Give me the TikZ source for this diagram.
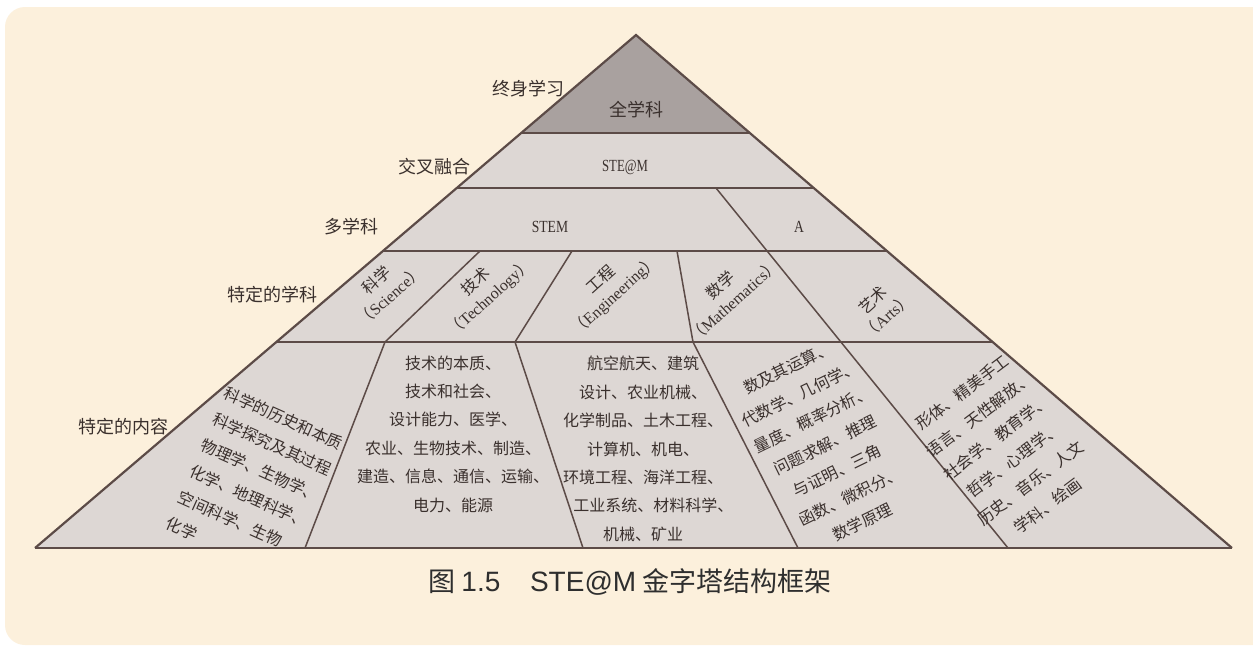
\documentclass[tikz,border=0pt]{standalone}
\usepackage{fontspec}
\setmainfont{Liberation Serif}
\newfontfamily\cjk{Noto Sans CJK SC}
\newfontfamily\capsans{Liberation Sans}
\usetikzlibrary{calc}
\definecolor{panel}{HTML}{FCF0DC}
\definecolor{tierfill}{HTML}{DDD7D4}
\definecolor{topfill}{HTML}{A9A19F}
\definecolor{edge}{HTML}{5C4B47}
\definecolor{ink}{HTML}{3A302D}
\definecolor{capink}{HTML}{2E2E2E}
\begin{document}
\begin{tikzpicture}[x=0.5pt,y=-0.5pt,
  lbl/.style={font=\cjk\fontsize{9}{11}\selectfont, text=ink, inner sep=0pt, anchor=east},
  tiertxt/.style={font=\cjk\fontsize{9}{11}\selectfont, text=ink, inner sep=0pt},
  latcap/.style={font=\fontsize{8.5}{10}\selectfont, text=ink, inner sep=0pt},
  subj/.style={font=\fontsize{8}{10.5}\selectfont, text=ink, inner sep=0pt, align=center, rotate=42},
  body/.style={font=\cjk\fontsize{8}{14.2}\selectfont, text=ink, inner sep=0pt},
  tierline/.style={draw=edge, line width=1.1pt},
  divline/.style={draw=edge, line width=0.75pt}]
\useasboundingbox (0,0) rectangle (1253,645);
\clip (0,0) rectangle (1253,645);
\fill[white] (0,0) rectangle (1253,645);
\fill[panel, rounded corners=10pt] (5,7) rectangle (1275,645);
% pyramid geometry
\coordinate (apex) at (636,35);
\coordinate (bl) at (35,548);
\coordinate (br) at (1232,548);
\foreach \n/\t in {a/0.19103, b/0.29825, c/0.42105, d/0.59844} {
  \coordinate (L\n) at ($(apex)!\t!(bl)$);
  \coordinate (R\n) at ($(apex)!\t!(br)$);
}
\fill[tierfill] (apex) -- (bl) -- (br) -- cycle;
\fill[topfill] (apex) -- (La) -- (Ra) -- cycle;
% dividers
\coordinate (sa1) at (716,188);
\coordinate (sa2) at (1008,548);
\coordinate (t1a) at (480,251); \coordinate (t1b) at (385,342); \coordinate (t1c) at (305,548);
\coordinate (t2a) at (572,251); \coordinate (t2b) at (515,342); \coordinate (t2c) at (583,548);
\coordinate (t3a) at (677,251); \coordinate (t3b) at (693,342); \coordinate (t3c) at (798,548);
\draw[divline] (sa1) -- (sa2);
\draw[divline] (t1a) -- (t1b) -- (t1c);
\draw[divline] (t2a) -- (t2b) -- (t2c);
\draw[divline] (t3a) -- (t3b) -- (t3c);
% tier lines
\draw[tierline] (La) -- (Ra);
\draw[tierline] (Lb) -- (Rb);
\draw[tierline] (Lc) -- (Rc);
\draw[tierline] (Ld) -- (Rd);
\draw[tierline] (bl) -- (br);
\draw[tierline, line join=miter] (bl) -- (apex) -- (br);
% left labels
\node[lbl] (l1) at (565,89) {终身学习};
\node[lbl] (l2) at (471,167) {交叉融合};
\node[lbl] (l3) at (379,227) {多学科};
\node[lbl] (l4) at (318,295) {特定的学科};
\node[lbl] (l5) at (169,427) {特定的内容};
% tier labels
\node[tiertxt] (all) at (636,110) {全学科};
\node[latcap] (steam) at (625,167) {\scalebox{0.75}[1]{STE@M}};
\node[latcap] (stem) at (550,227) {\scalebox{0.8}[1]{STEM}};
\node[latcap] (art) at (799,227) {\scalebox{0.8}[1]{A}};
% subjects
\node[subj] (sci) at (383,288) {{\cjk 科学}\\{\cjk （}Science{\cjk ）}};
\node[subj] (tec) at (483,290) {{\cjk 技术}\\{\cjk （}Technology{\cjk ）}};
\node[subj] (eng) at (608,288) {{\cjk 工程}\\{\cjk （}Engineering{\cjk ）}};
\node[subj] (mat) at (727,293) {{\cjk 数学}\\{\cjk （}Mathematics{\cjk ）}};
\node[subj] (ars) at (880,308) {{\cjk 艺术}\\{\cjk （}Arts{\cjk ）}};
% contents
\node[body, align=left, rotate=-24, anchor=north west] (csci) at (228,385)
  {科学的历史和本质\\科学探究及其过程\\物理学、生物学、\\化学、地理科学、\\空间科学、生物\\化学};
\node[body, align=center] (ctec) at (453,434)
  {技术的本质、\\技术和社会、\\设计能力、医学、\\农业、生物技术、制造、\\建造、信息、通信、运输、\\电力、能源};
\node[body, align=center] (ceng) at (643,449)
  {航空航天、建筑\\设计、农业机械、\\化学制品、土木工程、\\计算机、机电、\\环境工程、海洋工程、\\\hspace*{1.3em}工业系统、材料科学、\\机械、矿业};
\node[body, align=center, rotate=26] (cmat) at (825,445)
  {数及其运算、\\代数学、几何学、\\量度、概率分析、\\问题求解、推理\\与证明、三角\\函数、微积分、\\数学原理};
\node[body, align=center, rotate=37] (cars) at (1005,449)
  {形体、精美手工\\语言、天性解放、\\社会学、教育学、\\哲学、心理学、\\历史、音乐、人文\\学科、绘画};
% caption
\node[font=\cjk\fontsize{13.5}{16}\selectfont, text=capink, inner sep=0pt, anchor=west] (cap) at (428,582)
  {图 {\capsans\fontsize{14}{16}\selectfont 1.5}\hspace{1.1em}{\capsans\fontsize{14}{16}\selectfont STE@M} 金字塔结构框架};
\end{tikzpicture}
\end{document}
